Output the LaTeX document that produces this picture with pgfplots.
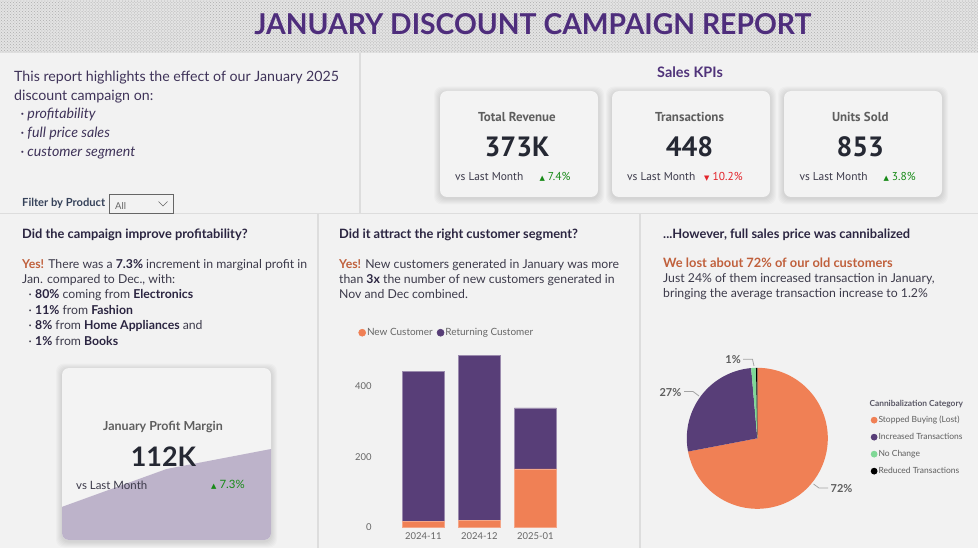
\documentclass[border=0pt]{standalone}
\usepackage{fontspec}
\setmainfont{Lato}
\newfontfamily\din{PT Sans}
\newfontfamily\sym{DejaVu Sans}
\usepackage{graphicx}
\usepackage{pgfplots}
\pgfplotsset{compat=1.18}
\usepackage{pgfplotstable}
\usetikzlibrary{patterns}

\definecolor{cBg}{HTML}{F2F2F2}
\definecolor{cSep}{HTML}{DDDDDD}
\definecolor{cHeadBase}{HTML}{E3E3E3}
\definecolor{cDots}{HTML}{ADADAD}
\definecolor{cTitle}{HTML}{4E2D7C}
\definecolor{cSales}{HTML}{50337A}
\definecolor{cIntro}{HTML}{3F3359}
\definecolor{cFilter}{HTML}{36425A}
\definecolor{cCard}{HTML}{F3F3F3}
\definecolor{cKlab}{HTML}{5E5E5E}
\definecolor{cKnum}{HTML}{252833}
\definecolor{cGreen}{HTML}{178A17}
\definecolor{cRed}{HTML}{E3242B}
\definecolor{cHead}{HTML}{2B2541}
\definecolor{cBody}{HTML}{3C3A4A}
\definecolor{cYes}{HTML}{C0603C}
\definecolor{cOrange}{HTML}{F08055}
\definecolor{cPurple}{HTML}{583E78}
\definecolor{cPieGreen}{HTML}{7FD896}
\definecolor{cArea}{HTML}{BDB3CA}
\definecolor{cTick}{HTML}{666666}
\definecolor{cLabel}{HTML}{5E5E5E}

\pgfplotstableread{
month new returning
0 16 424
1 20 467
2 165 173
}\custdata

\pgfplotstableread{
x profit
0 90.0
1 104.4
2 112.0
}\profitdata

\pgfplotstableread{
category pct
Stopped 72.0
Increased 26.6
NoChange 1.1
Reduced 0.3
}\piedata

\newcommand\kcard[4]{%
  \foreach \i in {1,...,6}{%
    \fill[black, opacity=0.018, rounded corners=8bp] ({#1-\i},{-(#2-\i+1.5)}) rectangle ({#3+\i},{-(#4+\i+1.5)});}
  \fill[cCard, rounded corners=7bp] (#1,-#2) rectangle (#3,-#4);
}

\begin{document}
\begin{tikzpicture}[x=1bp,y=1bp, txt/.style={anchor=base west, inner sep=0pt}]
\useasboundingbox (0,0) rectangle (978,-548);
\fill[cBg] (0,0) rectangle (978,-548);
% header
\fill[cHeadBase] (0,0) rectangle (978,-53);
\fill[pattern=crosshatch dots, pattern color=cDots] (0,0) rectangle (978,-53);
\node[inner sep=0pt, text=cTitle] at (532.8,-23.8) {\resizebox{557bp}{21bp}{\bfseries JANUARY DISCOUNT CAMPAIGN REPORT}};

% separators
\draw[cSep, line width=1.5bp] (360,-53) -- (360,-213);
\draw[cSep, line width=1.5bp] (0,-213.5) -- (978,-213.5);
\draw[cSep, line width=1.5bp] (318,-214) -- (318,-548);
\draw[cSep, line width=1.5bp] (640,-214) -- (640,-548);

% intro panel
\begin{scope}[every node/.append style={font=\fontsize{14.25}{16}\selectfont, text=cIntro}]
\node[txt] at (14,-82) {This report highlights the effect of our January 2025};
\node[txt] at (14,-100.5) {discount campaign on:};
\node[txt] at (20.5,-119) {·}; \node[txt] at (27.3,-119) {\itshape profitability};
\node[txt] at (20.5,-138) {·}; \node[txt] at (27.3,-138) {\itshape full price sales};
\node[txt] at (20.5,-157) {·}; \node[txt] at (27.3,-157) {\itshape customer segment};
\end{scope}
\node[txt, font=\bfseries\fontsize{11.2}{12}\selectfont, text=cFilter] at (22,-206.3) {Filter by Product};
\draw[fill=cBg, draw=cTick, line width=1bp] (109.5,-194.2) rectangle (173.5,-214);
\node[txt, font=\fontsize{9.5}{11}\selectfont, text=cTick] at (115,-210) {All};
\draw[cTick, line width=0.7bp] (158.5,-201.5) -- (163,-206) -- (167.5,-201.5);

% Sales KPIs
\node[font=\bfseries\fontsize{14.5}{16}\selectfont, text=cSales] at (690,-72.5) {Sales KPIs};
\kcard{440}{91}{598}{197}
\kcard{612}{91}{770}{197}
\kcard{784}{91}{942}{197}
\begin{scope}[every node/.append style={inner sep=0pt}]
\node[font=\din\bfseries\fontsize{13}{15}\selectfont, text=cKlab] at (517,-116.7) {Total Revenue};
\node[font=\din\bfseries\fontsize{28}{30}\selectfont, text=cKnum] at (517,-146.7) {373K};
\node[anchor=west, font=\din\fontsize{11.5}{13}\selectfont, text=cBody] at (455,-176.7) {vs Last Month};
\node[anchor=west, font=\din\fontsize{11.5}{13}\selectfont, text=cGreen] at (539.3,-176.7) {{\sym\fontsize{7}{7}\selectfont ▲}\hspace{3bp}7.4\%};

\node[font=\din\bfseries\fontsize{13}{15}\selectfont, text=cKlab] at (689.5,-116.7) {Transactions};
\node[font=\din\bfseries\fontsize{28}{30}\selectfont, text=cKnum] at (689.5,-146.7) {448};
\node[anchor=west, font=\din\fontsize{11.5}{13}\selectfont, text=cBody] at (627,-176.7) {vs Last Month};
\node[anchor=west, font=\din\fontsize{11.5}{13}\selectfont, text=cRed] at (704,-176.7) {{\sym\fontsize{7}{7}\selectfont ▼}\hspace{3bp}10.2\%};

\node[font=\din\bfseries\fontsize{13}{15}\selectfont, text=cKlab] at (860.3,-116.7) {Units Sold};
\node[font=\din\bfseries\fontsize{28}{30}\selectfont, text=cKnum] at (860.3,-146.7) {853};
\node[anchor=west, font=\din\fontsize{11.5}{13}\selectfont, text=cBody] at (799.3,-176.7) {vs Last Month};
\node[anchor=west, font=\din\fontsize{11.5}{13}\selectfont, text=cGreen] at (883.3,-176.7) {{\sym\fontsize{7}{7}\selectfont ▲}\hspace{3bp}3.8\%};
\end{scope}

% ---------- Panel 1 ----------
\node[txt, font=\bfseries\fontsize{12.9}{14}\selectfont, text=cHead] at (22,-239) {Did the campaign improve profitability?};
\begin{scope}[every node/.append style={font=\fontsize{12.3}{14}\selectfont, text=cBody}]
\node[txt] at (22,-268.3) {\textcolor{cYes}{\bfseries Yes!} There was a \textbf{\textcolor{cHead}{7.3\%}} increment in marginal profit in};
\node[txt] at (22,-283.6) {Jan. compared to Dec., with:};
\node[txt] at (28.5,-299) {·}; \node[txt] at (35,-299) {\textbf{\textcolor{cHead}{80\%}} coming from \textbf{\textcolor{cHead}{Electronics}}};
\node[txt] at (28.5,-314.3) {·}; \node[txt] at (35,-314.3) {\textbf{\textcolor{cHead}{11\%}} from \textbf{\textcolor{cHead}{Fashion}}};
\node[txt] at (28.5,-329.8) {·}; \node[txt] at (35,-329.8) {\textbf{\textcolor{cHead}{8\%}} from \textbf{\textcolor{cHead}{Home Appliances}} and};
\node[txt] at (28.5,-345.2) {·}; \node[txt] at (35,-345.2) {\textbf{\textcolor{cHead}{1\%}} from \textbf{\textcolor{cHead}{Books}}};
\end{scope}

% profit card
\kcard{62}{368}{271}{540}
\begin{scope}
\clip[rounded corners=7bp] (62,-368) rectangle (271,-540);
\begin{axis}[at={(62bp,-540bp)}, anchor=south west, scale only axis,
  width=209bp, height=172bp, xmin=0, xmax=2, ymin=77.4, ymax=142.8, hide axis]
\addplot[fill=cArea, draw=none] table[x=x, y=profit]{\profitdata} \closedcycle;
\end{axis}
\end{scope}
\begin{scope}[every node/.append style={inner sep=0pt}]
\node[font=\bfseries\fontsize{12.5}{14}\selectfont, text=cKlab] at (163,-427) {January Profit Margin};
\node[font=\bfseries\fontsize{27}{30}\selectfont, text=cKnum] at (163.5,-457) {112K};
\node[anchor=west, font=\fontsize{11.5}{13}\selectfont, text=cBody] at (76,-485) {vs Last Month};
\node[anchor=west, font=\fontsize{11.5}{13}\selectfont, text=cGreen] at (211,-485) {{\sym\fontsize{7}{7}\selectfont ▲}\hspace{3bp}7.3\%};
\end{scope}

% ---------- Panel 2 ----------
\node[txt, font=\bfseries\fontsize{12.9}{14}\selectfont, text=cHead] at (339,-238.5) {Did it attract the right customer segment?};
\begin{scope}[every node/.append style={font=\fontsize{12.3}{14}\selectfont, text=cBody}]
\node[txt] at (339,-269) {\textcolor{cYes}{\bfseries Yes!} New customers generated in January was more};
\node[txt] at (339,-284) {than \textbf{\textcolor{cHead}{3x}} the number of new customers generated in};
\node[txt] at (339,-299) {Nov and Dec combined.};
\end{scope}

\begin{axis}[at={(371.8bp,-527.3bp)}, anchor=south west, scale only axis,
  width=197.12bp, height=176.75bp,
  xmin=-0.92, xmax=2.6, ymin=0, ymax=500,
  ybar stacked, bar width=0.75,
  axis line style={draw=none}, major tick length=0pt,
  xtick={0,1,2}, xticklabels={2024-11,2024-12,2025-01},
  ytick={0,200,400},
  /pgf/number format/assume math mode=true,
  tick label style={font=\fontsize{9.5}{11}\selectfont, text=cTick, inner sep=0pt},
  xticklabel style={yshift=-5bp},
  legend style={at={(-0.069,1.101)}, anchor=west, legend columns=2, draw=none, fill=none,
    font=\fontsize{10}{11}\selectfont, text=cTick, inner sep=0pt,
    nodes={inner sep=1bp},
    /tikz/every even column/.append style={column sep=3bp}},
]
\addplot[fill=cOrange, draw=cOrange!70!white, line width=0.6bp,
  legend image code/.code={\fill[cOrange] (0bp,0bp) circle (3.5bp);}]
  table[x=month, y=new]{\custdata};
\addlegendentry{New Customer}
\addplot[fill=cPurple, draw=cPurple!60!white, line width=0.6bp,
  legend image code/.code={\fill[cPurple] (0bp,0bp) circle (3.5bp);}]
  table[x=month, y=returning]{\custdata};
\addlegendentry{Returning Customer}
\end{axis}

% ---------- Panel 3 ----------
\node[txt, font=\bfseries\fontsize{12.9}{14}\selectfont, text=cHead] at (663,-238.5) {...However, full sales price was cannibalized};
\node[txt, font=\bfseries\fontsize{12.9}{14}\selectfont, text=cYes] at (663,-267.7) {We lost about 72\% of our old customers};
\begin{scope}[every node/.append style={font=\fontsize{12.3}{14}\selectfont, text=cBody}]
\node[txt] at (663,-283) {Just 24\% of them increased transaction in January,};
\node[txt] at (663,-297.7) {bringing the average transaction increase to 1.2\%};
\end{scope}

\pgfplotstablegetelem{0}{pct}\of\piedata \let\pA\pgfplotsretval
\pgfplotstablegetelem{1}{pct}\of\piedata \let\pB\pgfplotsretval
\pgfplotstablegetelem{2}{pct}\of\piedata \let\pC\pgfplotsretval
\pgfplotstablegetelem{3}{pct}\of\piedata \let\pD\pgfplotsretval
\pgfmathsetmacro\aA{90-3.6*\pA}
\pgfmathsetmacro\aB{\aA-3.6*\pB}
\pgfmathsetmacro\aC{\aB-3.6*\pC}
\pgfmathsetmacro\aD{\aC-3.6*\pD}

\begin{axis}[at={(686.8bp,-508.8bp)}, anchor=south west, scale only axis,
  width=141bp, height=141bp, xmin=-1, xmax=1, ymin=-1, ymax=1, hide axis, clip=false,
  legend style={at={(1.303,0.666)}, anchor=north west, draw=none, fill=none,
    font=\fontsize{8.5}{9}\selectfont, text=cLabel, inner sep=0pt,
    nodes={inner sep=1bp, text height=6.3bp, text depth=1.8bp},
    row sep=6.9bp},
  legend cell align=left,
]
\addplot[fill=cOrange, draw=none, domain=\aA:90, samples=120,
  legend image code/.code={\fill[cOrange] (0bp,0bp) circle (3.4bp);}]
  ({cos(x)},{sin(x)}) -- (axis cs:0,0) -- cycle;
\addlegendentry{Stopped Buying (Lost)}
\addplot[fill=cPurple, draw=none, domain=\aB:\aA, samples=60,
  legend image code/.code={\fill[cPurple] (0bp,0bp) circle (3.4bp);}]
  ({cos(x)},{sin(x)}) -- (axis cs:0,0) -- cycle;
\addlegendentry{Increased Transactions}
\addplot[fill=cPieGreen, draw=none, domain=\aC:\aB, samples=5,
  legend image code/.code={\fill[cPieGreen] (0bp,0bp) circle (3.4bp);}]
  ({cos(x)},{sin(x)}) -- (axis cs:0,0) -- cycle;
\addlegendentry{No Change}
\addplot[fill=black, draw=none, domain=\aD:\aC, samples=3,
  legend image code/.code={\fill[black] (0bp,0bp) circle (3.4bp);}]
  ({cos(x)},{sin(x)}) -- (axis cs:0,0) -- cycle;
\addlegendentry{Reduced Transactions}
\end{axis}

\draw[cTick!60, line width=0.8bp] (743,-359.3) -- (752.5,-359.3) -- (754,-366);
\draw[cTick!60, line width=0.8bp] (684,-391.5) -- (693,-391.5) -- (699,-396);
\draw[cTick!60, line width=0.8bp] (813.5,-484) -- (819,-488) -- (828,-488);
\begin{scope}[every node/.append style={inner sep=0pt, font=\bfseries\fontsize{11}{13}\selectfont, text=cLabel}]
\node[anchor=east] at (741,-360) {1\%};
\node[anchor=east] at (681.5,-392.3) {27\%};
\node[anchor=west] at (830.5,-488.3) {72\%};
\end{scope}
\node[anchor=west, inner sep=0pt, font=\bfseries\fontsize{8.4}{9}\selectfont, text=cBody!85] at (869.3,-404.3) {Cannibalization Category};
\end{tikzpicture}
\end{document}
